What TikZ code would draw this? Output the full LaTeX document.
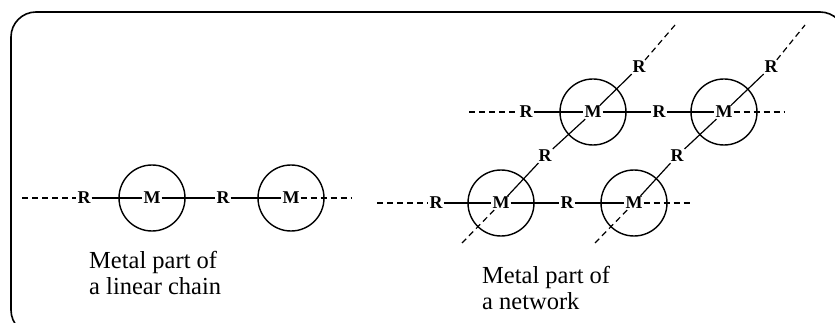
\documentclass[tikz,border=0pt]{standalone}
\usepackage{fontspec}
\setmainfont{Liberation Serif}
\usetikzlibrary{positioning}

\begin{document}
\begin{tikzpicture}[x=1pt, y=-1pt,
        every node/.style={font=\fontsize{18}{20}\selectfont\bfseries},
        metal/.style={inner sep=1pt},
        ligand/.style={inner sep=1pt},
        ring/.style={circle, draw, line width=1.4pt, minimum size=66pt, inner sep=0pt},
        bond/.style={line width=1.2pt},
        link/.style={line width=1.2pt, dash pattern=on 6pt off 4pt},
        caption/.style={font=\fontsize{24.5}{26}\selectfont, align=left, anchor=north west, inner sep=0pt}
    ]
    \clip (0,0) rectangle (835,323);
    \draw[line width=1.6pt, rounded corners=25pt] (11,12) rectangle (845,335);

    % linear chain
    \coordinate (l0) at (22,198);
    \coordinate (l1) at (351,198);
    \node[ligand] (r1) at (84,198) {R};
    \node[ligand] (r2) at (223,198) {R};
    \foreach \n/\px in {m1/152, m2/291} {
        \node[metal] (\n) at (\px,198) {M};
        \node[ring] at (\n) {};
    }
    \draw[link] (l0) -- (r1);
    \draw[bond] (r1) -- (m1) -- (r2) -- (m2);
    \draw[link] (m2) -- (l1);
    \node[caption] (cap1) at (89,251) {Metal part of\\a linear chain};

    % network
    \foreach \n/\px/\py in {b1/501/203, b2/634/203, t1/593/112, t2/724/112} {
        \node[metal] (\n) at (\px,\py) {M};
        \node[ring] at (\n) {};
    }
    \node[ligand] (rb0) at (436,203) {R};
    \node[ligand] (rb1) at (567,203) {R};
    \node[ligand] (rt0) at (526,112) {R};
    \node[ligand] (rt1) at (659,112) {R};
    \node[ligand] (rd1) at (545,156) {R};
    \node[ligand] (rd2) at (677,156) {R};
    \node[ligand] (ru1) at (639,67) {R};
    \node[ligand] (ru2) at (771,67) {R};
    \coordinate (eb0) at (377,203);
    \coordinate (eb1) at (692,203);
    \coordinate (et0) at (469,112);
    \coordinate (et1) at (785,112);
    \coordinate (ed1) at (462,243);
    \coordinate (ed2) at (595,243);
    \coordinate (eu1) at (675,25);
    \coordinate (eu2) at (805,25);

    \draw[link] (eb0) -- (rb0);
    \draw[bond] (rb0) -- (b1) -- (rb1) -- (b2);
    \draw[link] (b2) -- (eb1);
    \draw[link] (et0) -- (rt0);
    \draw[bond] (rt0) -- (t1) -- (rt1) -- (t2);
    \draw[link] (t2) -- (et1);
    \draw[link] (ed1) -- (b1);
    \draw[bond] (b1) -- (rd1) -- (t1) -- (ru1);
    \draw[link] (ru1) -- (eu1);
    \draw[link] (ed2) -- (b2);
    \draw[bond] (b2) -- (rd2) -- (t2) -- (ru2);
    \draw[link] (ru2) -- (eu2);
    \node[caption] (cap2) at (482,266) {Metal part of\\a network};
\end{tikzpicture}
\end{document}
